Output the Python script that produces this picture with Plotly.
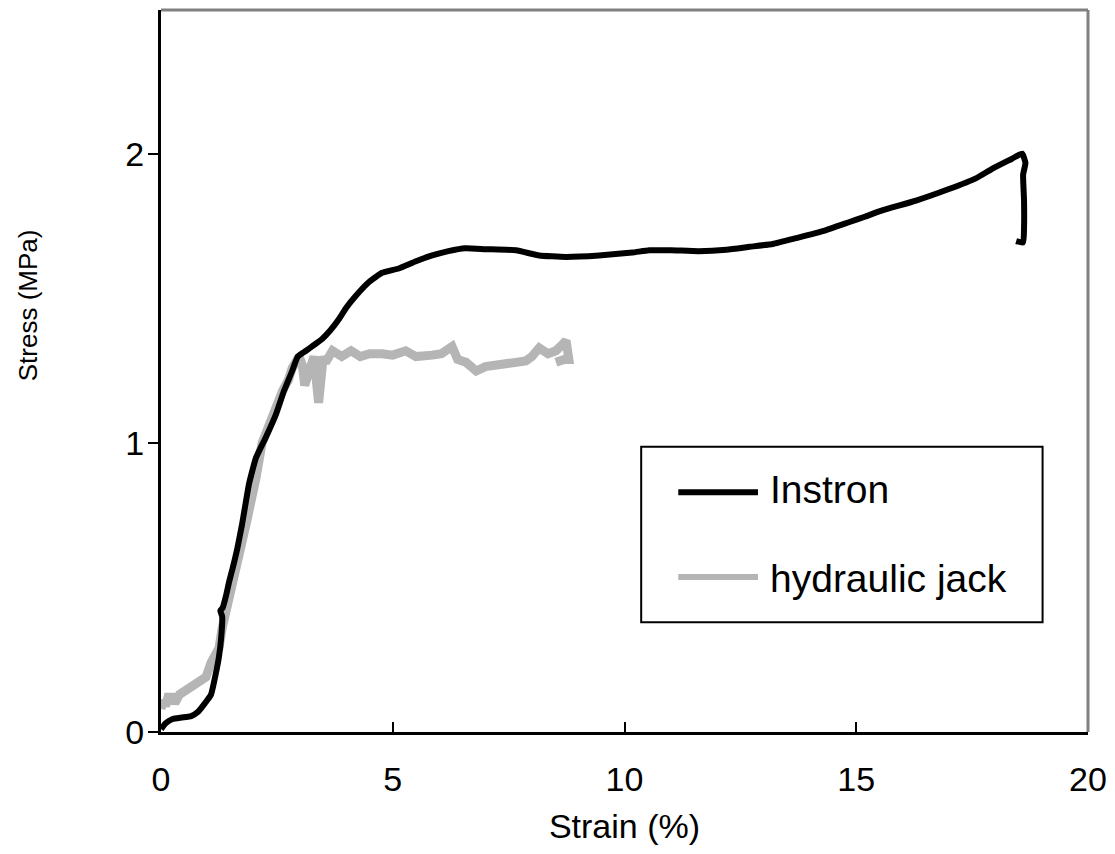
import plotly.graph_objects as go

# Stress-strain records (strain in %, stress in MPa)
instron_strain = [0.0, 0.1, 0.25, 0.45, 0.65, 0.8, 0.95, 1.08, 1.18, 1.25, 1.3, 1.32, 1.28, 1.33,
                  1.4, 1.47, 1.55, 1.64, 1.75, 1.9, 2.05, 2.26, 2.48, 2.65, 2.83, 2.95, 3.13, 3.3,
                  3.47, 3.65, 3.84, 4.0, 4.2, 4.5, 4.77, 5.13, 5.5, 5.85, 6.2, 6.57, 7.0, 7.66,
                  8.16, 8.73, 9.45, 10.17, 10.53, 11.0, 11.6, 12.2, 12.7, 13.2, 13.7, 14.3, 14.84,
                  15.2, 15.56, 16.29, 17.0, 17.58, 17.93, 18.36, 18.58, 18.65, 18.6, 18.62, 18.62,
                  18.6, 18.45]
instron_stress = [0.01, 0.03, 0.045, 0.05, 0.055, 0.07, 0.1, 0.13, 0.2, 0.26, 0.33, 0.4, 0.42, 0.43,
                  0.47, 0.52, 0.57, 0.63, 0.72, 0.86, 0.95, 1.02, 1.10, 1.18, 1.25, 1.30, 1.32, 1.34,
                  1.36, 1.39, 1.43, 1.47, 1.51, 1.56, 1.59, 1.605, 1.63, 1.65, 1.665, 1.675, 1.672,
                  1.668, 1.65, 1.645, 1.65, 1.66, 1.668, 1.668, 1.665, 1.67, 1.68, 1.69, 1.71, 1.735,
                  1.765, 1.785, 1.806, 1.84, 1.88, 1.917, 1.95, 1.985, 2.003, 1.97, 1.93, 1.84, 1.747,
                  1.695, 1.70]

jack_strain = [0.0, 0.05, 0.1, 0.15, 0.24, 0.3, 0.4, 0.5, 0.6, 0.7, 0.8, 0.97, 1.08, 1.15, 1.25,
               1.32, 1.36, 1.42, 1.5, 1.61, 1.75, 1.85, 1.95, 2.05, 2.18, 2.3, 2.4, 2.52, 2.62, 2.75,
               2.83, 2.98, 3.05, 3.1, 3.2, 3.3, 3.4, 3.45, 3.5, 3.55, 3.7, 3.9, 4.1, 4.3, 4.5, 4.77,
               5.0, 5.28, 5.5, 5.85, 6.05, 6.28, 6.4, 6.58, 6.8, 7.0, 7.3, 7.6, 7.87, 8.0, 8.16,
               8.35, 8.52, 8.65, 8.74, 8.8, 8.7, 8.52]
jack_stress = [0.08, 0.11, 0.09, 0.12, 0.12, 0.10, 0.13, 0.14, 0.145, 0.16, 0.17, 0.19, 0.24, 0.26,
               0.29, 0.36, 0.39, 0.45, 0.5, 0.57, 0.66, 0.73, 0.80, 0.88, 1.0, 1.05, 1.10, 1.14,
               1.18, 1.22, 1.26, 1.30, 1.27, 1.20, 1.25, 1.30, 1.14, 1.2, 1.30, 1.28, 1.32, 1.30,
               1.32, 1.30, 1.31, 1.31, 1.305, 1.32, 1.30, 1.305, 1.31, 1.335, 1.29, 1.28, 1.25,
               1.265, 1.27, 1.275, 1.285, 1.30, 1.33, 1.31, 1.32, 1.34, 1.355, 1.29, 1.29, 1.28]

x_ticks = [0, 5, 10, 15, 20]
y_ticks = [0, 1, 2]
series_names = ["Instron", "hydraulic jack"]

BLACK = "#000000"
GREY = "#b5b5b5"
FONT = "Liberation Sans, Arial, sans-serif"

fig = go.Figure()
fig.add_trace(go.Scatter(x=jack_strain, y=jack_stress, mode="lines", name=series_names[1],
                         line=dict(color=GREY, width=9), showlegend=False))
fig.add_trace(go.Scatter(x=instron_strain, y=instron_stress, mode="lines", name=series_names[0],
                         line=dict(color=BLACK, width=6, shape="spline", smoothing=0.4),
                         showlegend=False))

fig.update_xaxes(range=[0, 20], tickvals=x_ticks, ticktext=[str(v) for v in x_ticks],
                 ticks="inside", ticklen=10, tickwidth=2, tickcolor=BLACK, automargin=False,
                 showline=True, linecolor=BLACK, linewidth=3, showgrid=False, zeroline=False,
                 tickfont=dict(family=FONT, size=34, color=BLACK), ticklabelstandoff=15,
                 title=dict(text="Strain (%)", font=dict(family=FONT, size=34, color=BLACK),
                            standoff=18))
fig.update_yaxes(range=[0, 2.5], tickvals=y_ticks, ticktext=[str(v) for v in y_ticks],
                 ticks="outside", ticklen=10, tickwidth=2, tickcolor=BLACK, automargin=False,
                 showline=True, linecolor=BLACK, linewidth=3, showgrid=False, zeroline=False,
                 tickfont=dict(family=FONT, size=34, color=BLACK), ticklabelstandoff=-3)

shapes = [
    # plot-area frame on the top and right sides
    dict(type="line", xref="paper", yref="paper", x0=0, x1=1, y0=1, y1=1,
         line=dict(color="#808080", width=3)),
    dict(type="line", xref="paper", yref="paper", x0=1, x1=1, y0=0, y1=1,
         line=dict(color="#808080", width=3)),
    # legend box and its sample lines
    dict(type="rect", xref="paper", yref="paper", x0=0.518, x1=0.951, y0=0.152, y1=0.395,
         line=dict(color=BLACK, width=2), fillcolor="white", layer="above"),
    dict(type="line", xref="paper", yref="paper", x0=0.558, x1=0.644, y0=0.332, y1=0.332,
         line=dict(color=BLACK, width=6), layer="above"),
    dict(type="line", xref="paper", yref="paper", x0=0.558, x1=0.644, y0=0.2147, y1=0.2147,
         line=dict(color=GREY, width=6), layer="above"),
]
annotations = [
    # y-axis title, set a little above the middle of the axis
    dict(xref="paper", yref="paper", x=-0.1435, y=0.591, xanchor="center", yanchor="middle",
         text="Stress (MPa)", textangle=-90, showarrow=False,
         font=dict(family=FONT, size=26, color=BLACK)),
    dict(xref="paper", yref="paper", x=0.655, y=0.336, xanchor="left", yanchor="middle",
         text=series_names[0], showarrow=False, font=dict(family=FONT, size=39, color=BLACK)),
    dict(xref="paper", yref="paper", x=0.655, y=0.212, xanchor="left", yanchor="middle",
         text=series_names[1], showarrow=False, font=dict(family=FONT, size=39, color=BLACK)),
]

fig.update_layout(width=1115, height=854, plot_bgcolor="white", paper_bgcolor="white",
                  margin=dict(l=161, r=27, t=10, b=122, autoexpand=False), shapes=shapes,
                  annotations=annotations, showlegend=False)

fig.write_html("out.html")
